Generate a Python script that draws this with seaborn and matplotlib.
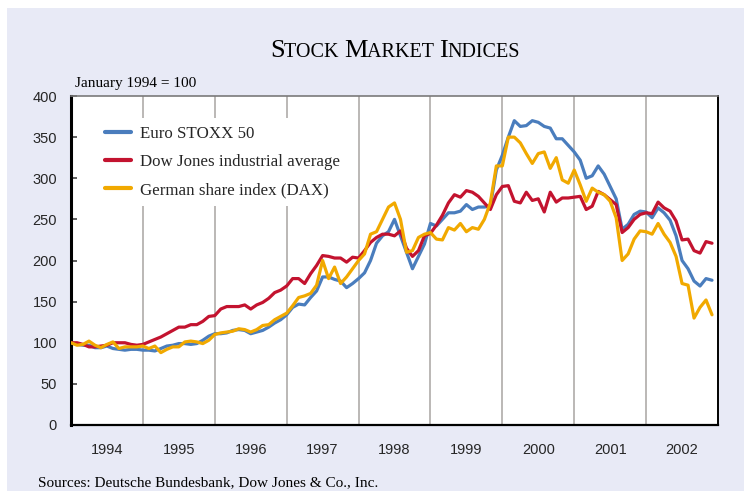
import numpy as np
import pandas as pd
import seaborn as sns
import matplotlib.pyplot as plt
from matplotlib.lines import Line2D
from matplotlib.patches import Rectangle

# monthly index values, January 1994 = 100 (Jan 1994 .. Dec 2002)
euro_stoxx = [
    100, 98, 97, 97, 94, 94, 96, 93, 92, 91, 92, 92,
    91, 91, 90, 93, 96, 97, 99, 99, 98, 99, 103, 108,
    111, 111, 112, 115, 116, 115, 111, 113, 115, 119, 124, 128,
    134, 143, 147, 146, 155, 163, 180, 180, 177, 175, 167, 172,
    178, 185, 200, 221, 230, 235, 250, 230, 210, 190, 205, 220,
    245, 242, 250, 258, 258, 260, 268, 262, 265, 265, 266, 310,
    328, 350, 370, 363, 364, 370, 368, 363, 361, 348, 348, 340,
    332, 322, 300, 303, 315, 305, 290, 275, 238, 244, 256, 260,
    259, 252, 264, 258, 249, 230, 200, 190, 175, 169, 178, 176,
]
dow_jones = [
    100, 100, 98, 95, 95, 96, 97, 100, 100, 100, 98, 97,
    98, 101, 104, 107, 111, 115, 119, 119, 122, 122, 126, 132,
    133, 141, 144, 144, 144, 146, 141, 146, 149, 154, 161, 164,
    169, 178, 178, 172, 184, 194, 206, 205, 203, 203, 198, 204,
    203, 212, 222, 228, 232, 232, 230, 236, 215, 205, 212, 230,
    233, 243, 255, 270, 280, 277, 285, 283, 278, 270, 262, 280,
    290, 291, 272, 270, 283, 273, 275, 259, 283, 271, 276, 276,
    277, 278, 262, 266, 284, 280, 274, 268, 234, 240, 250, 256,
    258, 257, 271, 264, 260, 248, 225, 226, 212, 209, 223, 221,
]
dax = [
    100, 97, 98, 102, 97, 94, 98, 101, 93, 95, 95, 95,
    96, 93, 96, 88, 92, 95, 95, 101, 102, 101, 99, 103,
    110, 112, 113, 114, 117, 116, 113, 116, 121, 122, 128, 132,
    136, 145, 155, 157, 160, 170, 200, 178, 192, 172, 180, 190,
    200, 208, 232, 235, 250, 265, 270, 250, 210, 212, 228, 232,
    234, 226, 225, 240, 237, 245, 235, 240, 238, 250, 270, 315,
    315, 350, 350, 343, 330, 318, 330, 332, 312, 325, 298, 294,
    310, 292, 272, 288, 283, 280, 272, 252, 200, 208, 226, 236,
    235, 232, 245, 232, 222, 205, 172, 170, 130, 143, 152, 134,
]
series_names = ["Euro STOXX 50", "Dow Jones industrial average",
                "German share index (DAX)"]
years = list(range(1994, 2003))
colors = ["#4a7dbd", "#c3132f", "#f1a900"]

months = 1994 + np.arange(len(euro_stoxx)) / 12
df = pd.DataFrame({"x": np.tile(months, 3),
                   "value": euro_stoxx + dow_jones + dax,
                   "series": np.repeat(series_names, len(months))})

sns.set_theme(style="white")
plt.rcParams["font.family"] = ["Liberation Sans", "DejaVu Sans"]
serif = ["Liberation Serif", "DejaVu Serif"]
bg = "#e8eaf6"

fig = plt.figure(figsize=(7.44, 4.91), dpi=100, facecolor=bg)
fig.patches.append(Rectangle((0, 1 - 8 / 491), 1, 8 / 491, transform=fig.transFigure,
                             facecolor="white", edgecolor="none", zorder=0))
fig.patches.append(Rectangle((0, 0), 7 / 744, 1, transform=fig.transFigure,
                             facecolor="white", edgecolor="none", zorder=0))
ax = fig.add_axes([71 / 744, 1 - 425 / 491, 647 / 744, 329 / 491])
ax.set_facecolor("white")

sns.lineplot(data=df, x="x", y="value", hue="series", palette=colors,
             linewidth=2.3, ax=ax, legend=False, zorder=3)

ax.set_xlim(1994, 2003)
ax.set_ylim(0, 400)
ax.set_yticks(range(0, 401, 50))
ax.set_xticks(range(1994, 2004))
ax.set_xticklabels([])
ax.set_xticks([y + 0.5 for y in years], minor=True)
ax.set_xticklabels([str(y) for y in years], minor=True, fontsize=10.5)
ax.tick_params(axis="x", which="both", direction="in", length=4, width=1,
               color="#222222", pad=13)
ax.tick_params(axis="y", direction="in", length=4, width=1.2, color="#444444",
               labelsize=10.5, pad=10, left=True)
ax.set_xlabel("")
ax.set_ylabel("")
for y in range(1995, 2003):
    ax.axvline(y, color="#b5b2b0", lw=1.3, zorder=1)

for side, lw, col in [("left", 2.2, "black"), ("bottom", 1.6, "black"),
                      ("right", 1.4, "black"), ("top", 1.2, "#7a7a7a")]:
    ax.spines[side].set_visible(True)
    ax.spines[side].set_linewidth(lw)
    ax.spines[side].set_color(col)

handles = [Line2D([], [], color=c, lw=3) for c in colors]
leg = ax.legend(handles, series_names, loc="upper left",
                bbox_to_anchor=(0.028, 0.959), frameon=True, fancybox=False,
                prop={"family": serif, "size": 12.2}, handlelength=1.5,
                handletextpad=0.55, labelspacing=0.72, borderpad=0.45)
leg.get_frame().set_facecolor("white")
leg.get_frame().set_edgecolor("none")
leg.get_frame().set_alpha(1)
leg.set_zorder(2)

# small-caps title
parts = [("S", 19), ("TOCK ", 14.5), ("M", 19), ("ARKET ", 14.5),
         ("I", 19), ("NDICES", 14.5)]
texts = [fig.text(0, 1 - 57 / 491, s, fontsize=fs, family=serif, color="black")
         for s, fs in parts]
fig.canvas.draw()
r = fig.canvas.get_renderer()
widths = [t.get_window_extent(r).width for t in texts]
x0 = 395 - sum(widths) / 2
for t, w in zip(texts, widths):
    t.set_x(x0 / 744)
    x0 += w

fig.text(75 / 744, 1 - 87 / 491, "January 1994 = 100", fontsize=11,
         family=serif, color="black")
fig.text(38 / 744, 1 - 486 / 491,
         "Sources: Deutsche Bundesbank, Dow Jones & Co., Inc.",
         fontsize=11, family=serif, color="black")

fig.savefig("out.png", dpi=100, facecolor=bg)
